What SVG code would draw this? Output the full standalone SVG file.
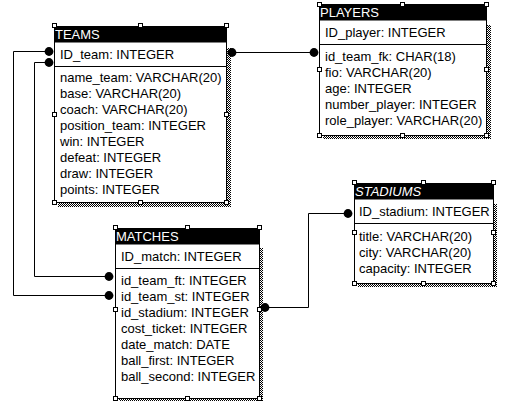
<svg xmlns="http://www.w3.org/2000/svg" width="513" height="401" viewBox="0 0 513 401">
<defs>
<pattern id="dither" width="2" height="2" patternUnits="userSpaceOnUse">
<rect width="2" height="2" fill="#ffffff"/>
<rect x="0" y="0" width="1" height="1" fill="#000000"/>
<rect x="1" y="1" width="1" height="1" fill="#000000"/>
</pattern>
<style>
.shadow{fill:url(#dither);stroke:none}
.box{fill:#ffffff;stroke:#000000;stroke-width:1}
.title{fill:#000000;stroke:none}
.sep{stroke:#000000;stroke-width:1}
.ttext{font-family:"Liberation Sans",Arial,sans-serif;font-size:13px;fill:#ffffff}
.ftext{font-family:"Liberation Sans",Arial,sans-serif;font-size:13px;fill:#000000}
.handle{fill:#ffffff;stroke:#000000;stroke-width:1}
.conn{fill:none;stroke:#000000;stroke-width:1}
.dot{fill:#000000}
</style>
</defs>
<rect width="513" height="401" fill="#ffffff"/>

<g id="teams">
<rect class="shadow" x="58" y="48" width="173" height="159"/>
<rect class="box" x="54.5" y="26.5" width="172" height="176"/>
<rect class="title" x="54.5" y="26.5" width="172" height="16"/>
<line class="sep" x1="54.5" y1="66.5" x2="226.5" y2="66.5"/>
<text class="ttext" x="55" y="39">TEAMS</text>
<text class="ftext" x="60" y="59">ID_team: INTEGER</text>
<text class="ftext" x="60" y="82">name_team: VARCHAR(20)</text>
<text class="ftext" x="60" y="98">base: VARCHAR(20)</text>
<text class="ftext" x="60" y="114">coach: VARCHAR(20)</text>
<text class="ftext" x="60" y="130">position_team: INTEGER</text>
<text class="ftext" x="60" y="146">win: INTEGER</text>
<text class="ftext" x="60" y="162">defeat: INTEGER</text>
<text class="ftext" x="60" y="178">draw: INTEGER</text>
<text class="ftext" x="60" y="194">points: INTEGER</text>
<rect class="handle" x="52.5" y="23.5" width="4" height="4"/>
<rect class="handle" x="138.5" y="23.5" width="4" height="4"/>
<rect class="handle" x="224.5" y="23.5" width="4" height="4"/>
<rect class="handle" x="52.5" y="112.5" width="4" height="4"/>
<rect class="handle" x="224.5" y="112.5" width="4" height="4"/>
<rect class="handle" x="52.5" y="200.5" width="4" height="4"/>
<rect class="handle" x="138.5" y="200.5" width="4" height="4"/>
<rect class="handle" x="224.5" y="200.5" width="4" height="4"/>
</g>

<g id="players">
<rect class="shadow" x="323" y="25" width="168" height="114"/>
<rect class="box" x="319.5" y="4.5" width="167" height="131"/>
<rect class="title" x="319.5" y="4.5" width="167" height="16"/>
<line class="sep" x1="319.5" y1="44.5" x2="486.5" y2="44.5"/>
<text class="ttext" x="320" y="17">PLAYERS</text>
<text class="ftext" x="325" y="37">ID_player: INTEGER</text>
<text class="ftext" x="325" y="61">id_team_fk: CHAR(18)</text>
<text class="ftext" x="325" y="77">fio: VARCHAR(20)</text>
<text class="ftext" x="325" y="93">age: INTEGER</text>
<text class="ftext" x="325" y="109">number_player: INTEGER</text>
<text class="ftext" x="325" y="125">role_player: VARCHAR(20)</text>
<rect class="handle" x="317.5" y="2.5" width="4" height="4"/>
<rect class="handle" x="400.5" y="2.5" width="4" height="4"/>
<rect class="handle" x="484.5" y="2.5" width="4" height="4"/>
<rect class="handle" x="317.5" y="67.5" width="4" height="4"/>
<rect class="handle" x="484.5" y="67.5" width="4" height="4"/>
<rect class="handle" x="317.5" y="133.5" width="4" height="4"/>
<rect class="handle" x="400.5" y="133.5" width="4" height="4"/>
<rect class="handle" x="484.5" y="133.5" width="4" height="4"/>
</g>

<g id="stadiums">
<rect class="shadow" x="358" y="204" width="139" height="83"/>
<rect class="box" x="354.5" y="183.5" width="139" height="100"/>
<rect class="title" x="354.5" y="183.5" width="139" height="16"/>
<line class="sep" x1="354.5" y1="223.5" x2="493.5" y2="223.5"/>
<text class="ttext" x="355" y="196" font-style="italic">STADIUMS</text>
<text class="ftext" x="359" y="216">ID_stadium: INTEGER</text>
<text class="ftext" x="359" y="241">title: VARCHAR(20)</text>
<text class="ftext" x="359" y="257">city: VARCHAR(20)</text>
<text class="ftext" x="359" y="273">capacity: INTEGER</text>
<rect class="handle" x="352.5" y="180.5" width="4" height="4"/>
<rect class="handle" x="421.5" y="180.5" width="4" height="4"/>
<rect class="handle" x="491.5" y="180.5" width="4" height="4"/>
<rect class="handle" x="352.5" y="230.5" width="4" height="4"/>
<rect class="handle" x="491.5" y="230.5" width="4" height="4"/>
<rect class="handle" x="352.5" y="281.5" width="4" height="4"/>
<rect class="handle" x="421.5" y="281.5" width="4" height="4"/>
<rect class="handle" x="491.5" y="281.5" width="4" height="4"/>
</g>

<g id="matches">
<rect class="shadow" x="119" y="248" width="144" height="155"/>
<rect class="box" x="115.5" y="228.5" width="144" height="170"/>
<rect class="title" x="115.5" y="228.5" width="144" height="16"/>
<line class="sep" x1="115.5" y1="268.5" x2="259.5" y2="268.5"/>
<text class="ttext" x="116" y="241">MATCHES</text>
<text class="ftext" x="121" y="261">ID_match: INTEGER</text>
<text class="ftext" x="121" y="285">id_team_ft: INTEGER</text>
<text class="ftext" x="121" y="301">id_team_st: INTEGER</text>
<text class="ftext" x="121" y="317">id_stadium: INTEGER</text>
<text class="ftext" x="121" y="333">cost_ticket: INTEGER</text>
<text class="ftext" x="121" y="349">date_match: DATE</text>
<text class="ftext" x="121" y="365">ball_first: INTEGER</text>
<text class="ftext" x="121" y="381">ball_second: INTEGER</text>
<rect class="handle" x="113.5" y="225.5" width="4" height="4"/>
<rect class="handle" x="185.5" y="225.5" width="4" height="4"/>
<rect class="handle" x="257.5" y="225.5" width="4" height="4"/>
<rect class="handle" x="113.5" y="307.5" width="4" height="4"/>
<rect class="handle" x="257.5" y="307.5" width="4" height="4"/>
<rect class="handle" x="113.5" y="396.5" width="4" height="4"/>
<rect class="handle" x="185.5" y="396.5" width="4" height="4"/>
<rect class="handle" x="257.5" y="396.5" width="4" height="4"/>
</g>

<g id="connectors">
<polyline class="conn" points="232,52.5 314,52.5"/>
<polyline class="conn" points="49,51.5 13.5,51.5 13.5,295.5 109,295.5"/>
<polyline class="conn" points="49,62.5 34.5,62.5 34.5,276.5 109,276.5"/>
<polyline class="conn" points="265,307.5 308.5,307.5 308.5,213.5 348,213.5"/>
<circle class="dot" cx="232" cy="52.5" r="4.4"/>
<circle class="dot" cx="314" cy="52.5" r="4.4"/>
<circle class="dot" cx="49" cy="51.5" r="4.4"/>
<circle class="dot" cx="49" cy="62.5" r="4.4"/>
<circle class="dot" cx="109" cy="276.5" r="4.4"/>
<circle class="dot" cx="109" cy="295.5" r="4.4"/>
<circle class="dot" cx="265" cy="307.5" r="4.4"/>
<circle class="dot" cx="348" cy="213.5" r="4.4"/>
</g>
</svg>
